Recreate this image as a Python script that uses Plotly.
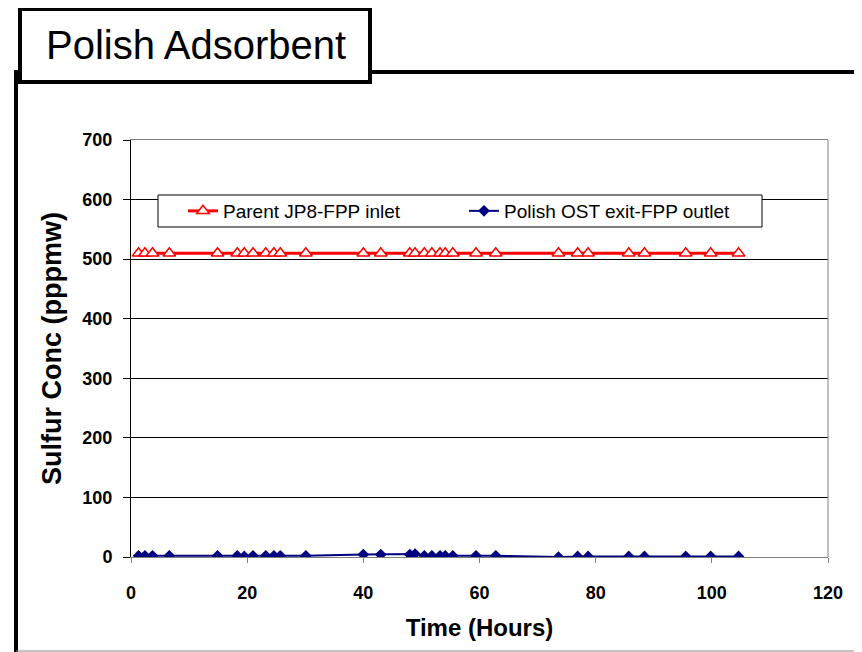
import plotly.graph_objects as go

# sampling times (hours) shared by both series
hours = [1.3, 2.4, 3.7, 6.6, 14.9, 18.3, 19.5, 21.0, 23.2, 24.6, 25.7, 30.1,
         40.0, 43.0, 48.0, 48.9, 50.5, 51.8, 53.2, 54.1, 55.4, 59.4, 62.8,
         73.6, 76.9, 78.7, 85.7, 88.4, 95.5, 99.8, 104.6]
inlet_ppmw = [510] * len(hours)
outlet_ppmw = [2, 2, 2, 2, 2, 2, 1, 2, 2, 2, 2, 2,
               4, 4, 4, 5, 2, 2, 2, 2, 2, 2, 2,
               0, 1, 1, 1, 1, 1, 1, 1]

# page has an 8px body margin, so the figure is a bit smaller and shifted
OFF = 8
W, H = 862 - OFF, 652 - OFF
L, R, T, B = 131 - OFF, 34, 140 - OFF, 95
PW, PH = W - L - R, H - T - B

def fx(px):
    return (px - OFF - L) / PW

def fy(py):
    return (H - B - (py - OFF)) / PH

font = "Liberation Sans, Arial, sans-serif"

fig = go.Figure()
fig.add_trace(go.Scatter(
    x=hours, y=inlet_ppmw, mode="lines+markers", name="Parent JP8-FPP inlet",
    line=dict(color="#ff0000", width=3),
    marker=dict(symbol="triangle-up", size=11, color="white",
                line=dict(color="#ff0000", width=1.5))))
fig.add_trace(go.Scatter(
    x=hours, y=outlet_ppmw, mode="lines+markers", name="Polish OST exit-FPP outlet",
    line=dict(color="#000080", width=2),
    marker=dict(symbol="diamond", size=9, color="#000080")))

shapes = [
    # slide frame
    dict(type="line", xref="paper", yref="paper", x0=fx(16), x1=fx(16), y0=fy(70), y1=fy(652),
         line=dict(color="black", width=4)),
    dict(type="line", xref="paper", yref="paper", x0=fx(370), x1=fx(862), y0=fy(72), y1=fy(72),
         line=dict(color="black", width=4)),
    dict(type="line", xref="paper", yref="paper", x0=fx(16), x1=fx(862), y0=fy(651), y1=fy(651),
         line=dict(color="#888888", width=1)),
    dict(type="rect", xref="paper", yref="paper", x0=fx(20), x1=fx(370), y0=fy(9), y1=fy(82),
         line=dict(color="black", width=4), fillcolor="white"),
    # right border of plot area
    dict(type="line", xref="paper", yref="paper", x0=1, x1=1, y0=0, y1=1,
         line=dict(color="#808080", width=1)),
    # legend box
    dict(type="rect", xref="paper", yref="paper", x0=fx(158), x1=fx(762), y0=fy(195), y1=fy(227),
         line=dict(color="black", width=1), fillcolor="white", layer="above"),
]

fig.update_layout(
    width=W, height=H,
    margin=dict(l=L, r=R, t=T, b=B),
    paper_bgcolor="white", plot_bgcolor="white",
    font=dict(family=font, color="black"),
    shapes=shapes,
    annotations=[dict(text="Polish Adsorbent", xref="paper", yref="paper",
                      x=fx(196), y=fy(45), xanchor="center", yanchor="middle",
                      showarrow=False, font=dict(size=40, family=font, color="black"))],
    showlegend=True,
    legend=dict(orientation="h", x=fx(183), y=fy(211), xanchor="left", yanchor="middle",
                bgcolor="rgba(0,0,0,0)", borderwidth=0, entrywidth=236,
                font=dict(size=19, family=font, color="black")),
)

fig.update_xaxes(
    range=[0, 120], dtick=20, showgrid=False, zeroline=False,
    showline=True, linecolor="#808080", linewidth=1, mirror=True,
    ticks="outside", ticklen=5, tickcolor="#808080",
    ticklabelstandoff=14,
    tickfont=dict(size=18, family=font, color="black", weight="bold"),
    title=dict(text="<b>Time (Hours)</b>", font=dict(size=24, family=font), standoff=17),
)
fig.update_yaxes(
    range=[0, 700], dtick=100, showgrid=True, gridcolor="black", gridwidth=1, zeroline=False,
    showline=True, linecolor="black", linewidth=1,
    ticks="outside", ticklen=7, tickcolor="black",
    ticklabelstandoff=7,
    tickfont=dict(size=18, family=font, color="black", weight="bold"),
    title=dict(text="<b>Sulfur Conc (pppmw)</b>", font=dict(size=27, family=font), standoff=12),
)

fig.write_html("out.html")
